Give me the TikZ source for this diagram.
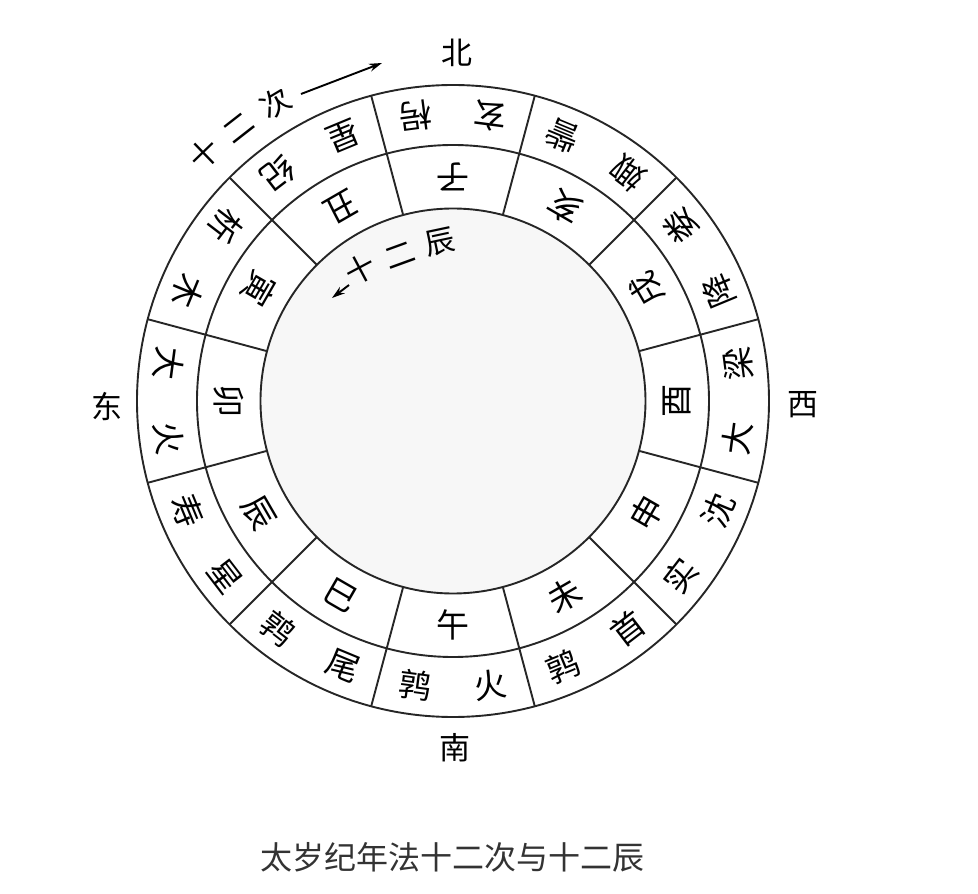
\documentclass[tikz,border=0pt]{standalone}
\usepackage{fontspec}
\setmainfont{Noto Sans CJK SC}
\usetikzlibrary{arrows.meta,positioning}

\begin{document}
\begin{tikzpicture}[x=1pt,y=1pt,
      myline/.style={line width=1.9pt, draw=black!85},
      mychar/.style={inner sep=0pt, font=\fontsize{33}{33}\selectfont},
      mydir/.style={inner sep=0pt, font=\fontsize{31}{31}\selectfont},
      mylabel/.style={inner sep=0pt, font=\fontsize{30}{30}\selectfont},
      mycaption/.style={inner sep=0pt, text=black!80, font=\fontsize{32}{32}\selectfont},
      myarrow/.style={-{Stealth[length=13pt,width=8pt]}, line width=1.9pt}
      ]
      \useasboundingbox (-453,-493) rectangle (525,401);

      % rings
      \fill[black!3] (0,0) circle (192.5);
      \draw[myline] (0,0) circle (192.5) (0,0) circle (256) (0,0) circle (316);
      \foreach \a in {15,45,...,345}
         \draw[myline] (\a:192.5) -- (\a:316);

    \foreach \a/\z/\x/\y [count=\i] in {% angle/chen/first ci/second ci
	  90/子/玄/枵,
	60/亥/娵/訾,
	30/戌/降/娄,
	0/酉/大/梁,
	-30/申/实/沈,
	-60/未/鹑/首,
	-90/午/鹑/火,
	-120/巳/鹑/尾,
	-150/辰/寿/星,
	180/卯/大/火,
	150/寅/析/木,
	120/丑/星/纪}
       {
       \node[mychar, rotate=\a+90] (chen\i) at (\a:224) {\z};
       \node[mychar, rotate=\a+82.5] (ci\i a) at (\a-7.5:287) {\x};
       \node[mychar, rotate=\a+97.5] (ci\i b) at (\a+7.5:287) {\y};
       }

      \node[mydir] (north) at (4,348) {北};
      \node[mydir] (south) at (2,-347) {南};
      \node[mydir] (east) at (-346,-6) {东};
      \node[mydir] (west) at (350,-4) {西};
%
      \node[mylabel, rotate=44] (citen) at (135.2:350) {十};
      \node[mylabel, rotate=38] (citwo) at (128:347) {二};
      \node[mylabel, rotate=31] (cinext) at (120.8:347) {次};
      \coordinate (citail) at (-152,307);
      \coordinate (cihead) at (-71,338);
      \draw[myarrow] (citail) -- (cihead);
%
      \node[mylabel, rotate=28] (chenten) at (-93,132) {十};
      \node[mylabel, rotate=20] (chentwo) at (-53,145) {二};
      \node[mylabel, rotate=12] (chenname) at (-13,159) {辰};
      \coordinate (chentail) at (-104,116);
      \coordinate (chenhead) at (-121,103);
      \draw[myarrow] (chentail) -- (chenhead);
%
      \node[mycaption] (caption) at (0,-456) {太岁纪年法十二次与十二辰};

    \end{tikzpicture}
\end{document}
